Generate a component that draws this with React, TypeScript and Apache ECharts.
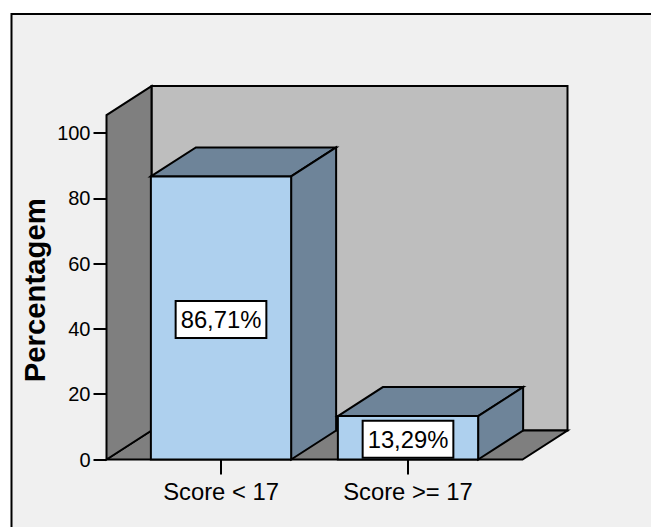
import React, { useEffect, useRef } from "react";
import * as echarts from "echarts";

const categories = ["Score < 17", "Score >= 17"];
const percentages = [86.71, 13.29];
const barLabels = ["86,71%", "13,29%"];
const yTicks = [0, 20, 40, 60, 80, 100];
const wallTop = 105.5;
const axisTitle = "Percentagem";

const DX = 45;
const DY = -29;
const font = "'Liberation Sans', Arial, sans-serif";
const stroke = { stroke: "#000", lineWidth: 2 };

function poly(points: number[][], fill: string) {
  return { type: "polygon", shape: { points }, style: { fill, ...stroke } };
}

export default function App() {
  const ref = useRef<HTMLDivElement>(null);
  useEffect(() => {
    const chart = echarts.init(ref.current!, undefined, { renderer: "svg" });
    chart.setOption({
      animation: false,
      backgroundColor: "#ffffff",
      textStyle: { fontFamily: font },
      graphic: [
        {
          type: "rect",
          z: -10,
          silent: true,
          shape: { x: 11.5, y: 14, width: 660, height: 540 },
          style: { fill: "#f0f0f0", stroke: "#000", lineWidth: 2 },
        },
      ],
      grid: { left: 127.5, top: 133, width: 374, height: 326.5 },
      xAxis: {
        type: "category",
        data: categories,
        axisLine: { show: false },
        axisTick: { show: true, alignWithLabel: true, length: 15, lineStyle: { color: "#000", width: 2 } },
        axisLabel: { color: "#000", fontSize: 23.8, margin: 20, fontFamily: font },
        splitLine: { show: false },
      },
      yAxis: {
        type: "value",
        min: 0,
        max: 100,
        interval: 20,
        offset: 21,
        name: axisTitle,
        nameLocation: "middle",
        nameMoveOverlap: false,
        nameGap: 58,
        nameRotate: 90,
        nameTextStyle: { color: "#000", fontSize: 29.3, fontWeight: "bold", fontFamily: font, padding: [0, 0, 0, 12] },
        axisLine: { show: false },
        axisTick: { show: true, length: 13, lineStyle: { color: "#000", width: 2 } },
        axisLabel: {
          color: "#000",
          fontSize: 20,
          margin: 16,
          fontFamily: font,
          formatter: (v: number) => (yTicks.includes(v) ? String(v) : ""),
        },
        splitLine: { show: false },
      },
      series: [
        {
          type: "custom",
          coordinateSystem: "cartesian2d",
          clip: false,
          silent: true,
          z: 1,
          data: [[0, wallTop]],
          renderItem: (_p: any, api: any) => {
            const band = api.size([1, 0])[0];
            const left = api.coord([0, 0])[0] - band / 2 - 21;
            const right = api.coord([1, 0])[0] + band / 2 + 21;
            const y0 = api.coord([0, 0])[1];
            const yT = api.coord([0, api.value(1)])[1];
            return {
              type: "group",
              children: [
                poly([[left + DX, yT + DY], [right + DX, yT + DY], [right + DX, y0 + DY], [left + DX, y0 + DY]], "#bebebe"),
                poly([[left, y0], [left + DX, y0 + DY], [right + DX, y0 + DY], [right, y0]], "#7f7f7f"),
                poly([[left, yT], [left + DX, yT + DY], [left + DX, y0 + DY], [left, y0]], "#7f7f7f"),
              ],
            };
          },
        },
        {
          type: "custom",
          coordinateSystem: "cartesian2d",
          clip: false,
          silent: true,
          z: 2,
          data: percentages.map((v, i) => [i, v]),
          renderItem: (p: any, api: any) => {
            const band = api.size([1, 0])[0];
            const w = band * 0.75;
            const c = api.coord([api.value(0), 0]);
            const t = api.coord([api.value(0), api.value(1)]);
            const l = c[0] - w / 2;
            const r = c[0] + w / 2;
            return {
              type: "group",
              children: [
                poly([[l, t[1]], [l + DX, t[1] + DY], [r + DX, t[1] + DY], [r, t[1]]], "#6e8499"),
                poly([[r, t[1]], [r + DX, t[1] + DY], [r + DX, c[1] + DY], [r, c[1]]], "#6e8499"),
                poly([[l, t[1]], [r, t[1]], [r, c[1]], [l, c[1]]], "#aed0ee"),
                {
                  type: "text",
                  x: c[0],
                  y: (t[1] + c[1]) / 2 + 1.5,
                  style: {
                    text: barLabels[p.dataIndex],
                    fontSize: 23.8,
                    fontFamily: font,
                    fill: "#000",
                    align: "center",
                    verticalAlign: "middle",
                    backgroundColor: "#fff",
                    borderColor: "#000",
                    borderWidth: 2,
                    padding: [6, 4, 5, 4],
                  },
                },
              ],
            };
          },
        },
      ],
    });
    return () => chart.dispose();
  }, []);
  return <div ref={ref} style={{ position: "fixed", left: 0, top: 0, width: 651, height: 527 }} />;
}
